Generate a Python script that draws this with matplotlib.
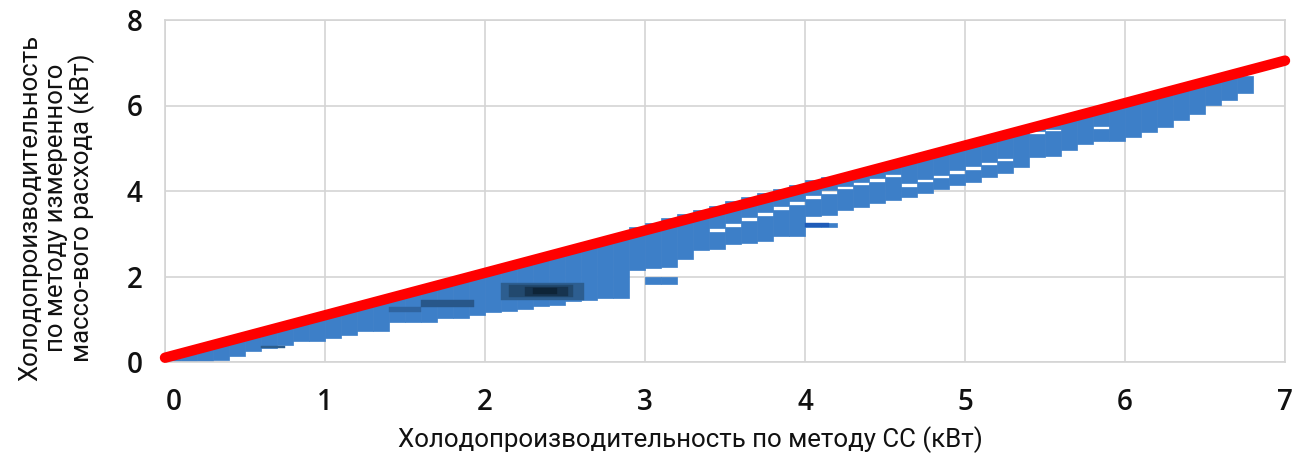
import matplotlib
matplotlib.use("Agg")
import matplotlib.pyplot as plt
import matplotlib.transforms as mtransforms
import numpy as np
from matplotlib import font_manager as fm

# ---------------- data ----------------
x_ticks = [0, 1, 2, 3, 4, 5, 6, 7]
y_ticks = [0, 2, 4, 6, 8]

# left edges of x-bins (width 0.1) of the scatter density
bin_left = [0.0, 0.1, 0.2, 0.3, 0.4, 0.5, 0.6, 0.7, 0.8, 0.9,
            1.0, 1.1, 1.2, 1.3, 1.4, 1.5, 1.6, 1.7, 1.8, 1.9,
            2.0, 2.1, 2.2, 2.3, 2.4, 2.5, 2.6, 2.7, 2.8, 2.9,
            3.0, 3.1, 3.2, 3.3, 3.4, 3.5, 3.6, 3.7, 3.8, 3.9,
            4.0, 4.1, 4.2, 4.3, 4.4, 4.5, 4.6, 4.7, 4.8, 4.9,
            5.0, 5.1, 5.2, 5.3, 5.4, 5.5, 5.6, 5.7, 5.8, 5.9,
            6.0, 6.1, 6.2, 6.3, 6.4, 6.5, 6.6, 6.7]
# lowest measured value in each bin (kW)
y_low = [0.00, 0.00, 0.02, 0.05, 0.15, 0.25, 0.32, 0.40, 0.50, 0.50,
         0.55, 0.62, 0.72, 0.72, 0.94, 0.94, 0.94, 1.04, 1.04, 1.10,
         1.16, 1.20, 1.25, 1.31, 1.33, 1.42, 1.44, 1.50, 1.50, 2.15,
         1.82, 1.82, 2.40, 2.62, 2.64, 2.75, 2.78, 2.84, 2.95, 2.95,
         3.16, 3.16, 3.55, 3.62, 3.71, 3.80, 3.86, 3.95, 4.05, 4.15,
         4.22, 4.32, 4.42, 4.55, 4.80, 4.82, 4.95, 5.10, 5.16, 5.18,
         5.26, 5.38, 5.50, 5.67, 5.79, 6.02, 6.14, 6.30]
# highest measured value in each bin (kW)
y_high = [0.20, 0.30, 0.40, 0.50, 0.60, 0.70, 0.80, 0.90, 0.99, 1.09,
          1.19, 1.29, 1.39, 1.49, 1.59, 1.69, 1.79, 1.89, 1.99, 2.09,
          2.19, 2.29, 2.38, 2.48, 2.58, 2.68, 2.78, 2.88, 2.98, 3.16,
          3.26, 3.36, 3.46, 3.56, 3.66, 3.76, 3.85, 3.95, 4.05, 4.15,
          4.25, 4.33, 4.37, 4.47, 4.57, 4.67, 4.77, 4.87, 4.97, 5.07,
          5.17, 5.26, 5.36, 5.46, 5.56, 5.66, 5.76, 5.86, 5.96, 6.06,
          6.16, 6.26, 6.36, 6.46, 6.55, 6.62, 6.66, 6.70]
nan = float("nan")
# empty value ranges inside a bin (upper row of gaps)
gap1_lo = [nan] * 34 + [3.03, 3.16, 3.30, 3.42, 3.55, 3.68, 3.81, 3.94, 4.04, 4.13,
                        4.22, 4.32, 4.10, 4.20, 4.30, 4.40, 4.50, 4.60, 4.70, nan,
                        5.33, 5.40, nan, nan, 5.44, nan, nan, nan, nan, nan,
                        nan, nan, nan, nan]
gap1_hi = [nan] * 34 + [3.13, 3.25, 3.39, 3.51, 3.64, 3.77, 3.90, 4.02, 4.12, 4.21,
                        4.30, 4.40, 4.18, 4.28, 4.38, 4.48, 4.58, 4.68, 4.78, nan,
                        5.40, 5.46, nan, nan, 5.52, nan, nan, nan, nan, nan,
                        nan, nan, nan, nan]
# lower row of gaps
gap2_lo = [nan] * 30 + [2.00, 2.00] + [nan] * 8 + [3.24, 3.24] + [nan] * 26
gap2_hi = [nan] * 30 + [2.20, 2.22] + [nan] * 8 + [3.42, 3.45] + [nan] * 26

# regions of higher point density (darker shading)
dense_x0 = [0.60, 1.40, 1.60, 2.10, 2.15, 2.25, 2.30, 4.00]
dense_x1 = [0.75, 1.60, 1.93, 2.62, 2.55, 2.52, 2.45, 4.15]
dense_y0 = [0.32, 1.16, 1.28, 1.45, 1.52, 1.55, 1.58, 3.16]
dense_y1 = [0.37, 1.28, 1.44, 1.85, 1.80, 1.76, 1.72, 3.24]
dense_col = ["#2c5d8c", "#2f64a0", "#28578a", "#2d5e90", "#22496e",
             "#17344f", "#0e2437", "#1f5cb8"]

# reference line (equal capacity)
line_x = [0.0, 7.0]
line_y = [0.1, 7.05]

xlabel_text = "Холодопроизводительность по методу СС (кВт)"
ylabel_text = "Холодопроизводительность\nпо методу измеренного\nмассо-вого расхода (кВт)"

# ---------------- fonts ----------------
def _w(v):
    if isinstance(v, str):
        return fm.weight_dict.get(v, 400)
    return int(v)

entries = {}
for f in fm.fontManager.ttflist:
    entries.setdefault(f.name, set()).add(_w(f.weight))

title_font = "Roboto" if "Roboto" in entries else "DejaVu Sans"
tick_font, tick_weight = "DejaVu Sans", 700
done = False
for want in (600, 700):
    for nm in ("Open Sans", "Noto Sans", "Roboto", "Lato"):
        if nm in entries and want in entries[nm]:
            tick_font, tick_weight = nm, want
            done = True
            break
    if done:
        break

# ---------------- plot ----------------
W, H = 1308, 470
fig = plt.figure(figsize=(W / 100, H / 100), dpi=100)
ax = fig.add_axes([165 / W, 1 - 362 / H, (1285 - 165) / W, (362 - 20) / H])

blue = "#3d7fc8"
bw = 0.1
for i, x0 in enumerate(bin_left):
    cuts = [y_low[i]]
    for glo, ghi in sorted([(gap2_lo[i], gap2_hi[i]), (gap1_lo[i], gap1_hi[i])],
                           key=lambda t: (np.inf if np.isnan(t[0]) else t[0])):
        if not np.isnan(glo):
            cuts += [glo, ghi]
    cuts.append(y_high[i])
    for k in range(0, len(cuts), 2):
        ax.bar(x0, cuts[k + 1] - cuts[k], width=bw, bottom=cuts[k], align="edge",
               color=blue, edgecolor=blue, linewidth=0.5, zorder=2)

for x0, x1, y0, y1, c in zip(dense_x0, dense_x1, dense_y0, dense_y1, dense_col):
    ax.bar(x0, y1 - y0, width=x1 - x0, bottom=y0, align="edge",
           color=c, edgecolor=c, linewidth=0.3, zorder=3)

ax.plot(line_x, line_y, color="#ff0000", linewidth=7.5, solid_capstyle="round",
        zorder=5, clip_on=False)

ax.set_xlim(0, 7)
ax.set_ylim(0, 8)
tick_kw = dict(fontsize=20, fontweight=tick_weight, fontfamily=tick_font, color="#111111")
ax.set_xticks(x_ticks, labels=[str(v) for v in x_ticks], **tick_kw)
ax.set_yticks(y_ticks, labels=[str(v) for v in y_ticks], **tick_kw)
ax.set_axisbelow(True)
ax.grid(True, color="#d4d4d4", linewidth=1.2)
for s in ax.spines.values():
    s.set_color("#d4d4d4")
    s.set_linewidth(1.2)
ax.tick_params(length=0)
ax.tick_params(axis="x", pad=19)
ax.tick_params(axis="y", pad=16)
# first x label sits slightly right of the axis in the original
xl0 = ax.get_xticklabels()[0]
xl0.set_transform(xl0.get_transform() +
                  mtransforms.ScaledTranslation(9 / 100, 0, fig.dpi_scale_trans))

tx = fig.text(690 / W, 1 - 440 / H, xlabel_text,
              ha="center", va="center", fontsize=19, family=[title_font, "DejaVu Sans"],
              color="#111111")
ty = fig.text(57 / W, 1 - 208 / H, ylabel_text,
              ha="center", va="center", rotation=90, multialignment="center",
              linespacing=1.05, fontsize=19, family=[title_font, "DejaVu Sans"],
              color="#111111")

# fit title sizes to the widths measured on the original
fig.canvas.draw()
r = fig.canvas.get_renderer()
wx = tx.get_window_extent(r).width
tx.set_fontsize(19 * 585 / wx)
hy = ty.get_window_extent(r).height
ty.set_fontsize(19 * 345 / hy)

fig.savefig("out.png", dpi=100)
